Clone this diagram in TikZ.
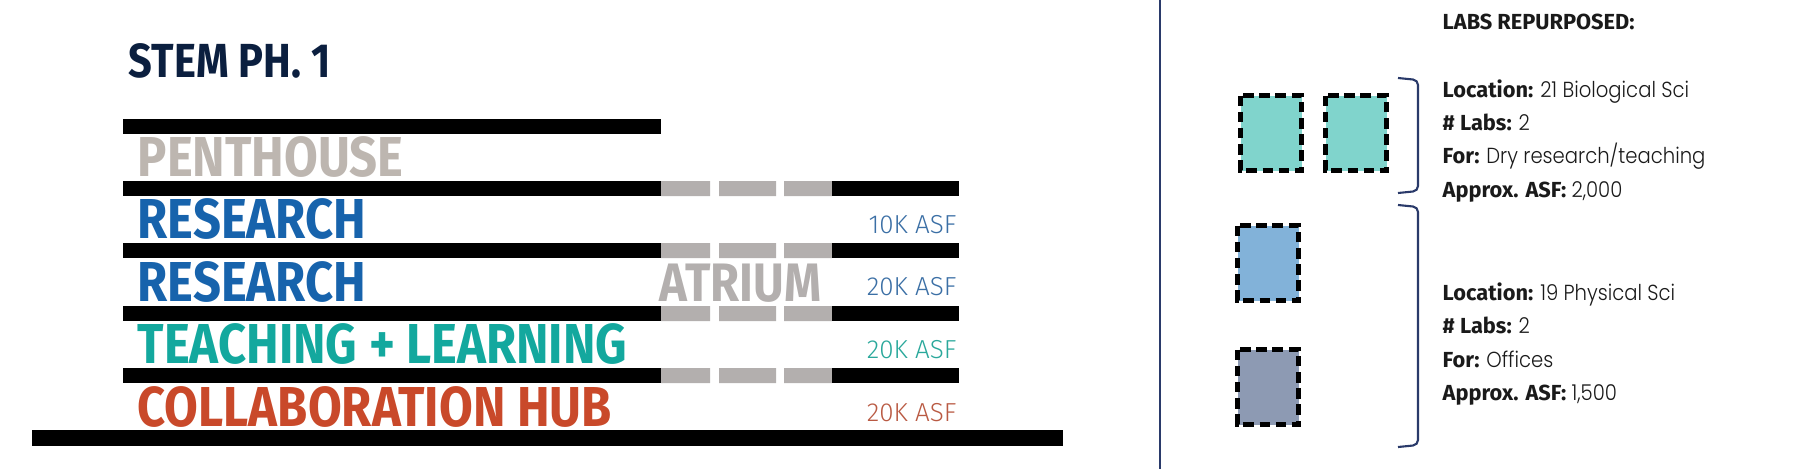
\documentclass[tikz,border=0pt]{standalone}
\usepackage{fontspec}
\setmainfont{Fira Sans}
\newfontfamily\headfont[FakeStretch=0.87]{Fira Sans}
\newfontfamily\thinfont{Fira Sans Light}
\newfontfamily\valfont[FakeStretch=0.9]{Poppins Light}
\usetikzlibrary{positioning}
\definecolor{navy}{HTML}{0B1F3F}
\definecolor{stone}{HTML}{BDB6B0}
\definecolor{resblue}{HTML}{1763AC}
\definecolor{teachteal}{HTML}{13A89E}
\definecolor{hubred}{HTML}{C9492A}
\definecolor{atrgray}{HTML}{B3AFAE}
\definecolor{asfblue}{HTML}{3B6FA5}
\definecolor{asfteal}{HTML}{2AA89B}
\definecolor{asfred}{HTML}{B95A43}
\definecolor{labteal}{HTML}{80D4CC}
\definecolor{labblue}{HTML}{82B2D9}
\definecolor{labslate}{HTML}{8D9AB3}
\definecolor{ink}{HTML}{1A1A1A}
\definecolor{rule}{HTML}{2A3A6A}
\newcommand{\slab}[1]{\fill (123,#1) rectangle (661,#1+15);\fill[atrgray] (661,#1) rectangle (710,#1+15) (719,#1) rectangle (776,#1+15) (784,#1) rectangle (832,#1+15);\fill (832,#1) rectangle (959,#1+15);}
\newcommand{\lab}[3]{\filldraw[fill=#3,draw=black,line width=1.4pt,dash pattern=on 3pt off 1.6pt] (#1,#2) rectangle (#1+61,#2+75);}

\begin{document}
\begin{tikzpicture}[x=0.01cm,y=-0.01cm,
  floor/.style={font=\headfont\bfseries\fontsize{16}{17}\selectfont,anchor=base west,inner sep=0},
  asf/.style={font=\thinfont\fontsize{7.4}{8}\selectfont,anchor=base east,inner sep=0},
  key/.style={font=\bfseries\fontsize{6.2}{7}\selectfont,anchor=base west,inner sep=0,text=ink}]
\useasboundingbox (0,0) rectangle (1800,469);
\node[font=\headfont\bfseries\fontsize{13.6}{15}\selectfont,anchor=base west,inner sep=0,text=navy] (title) at (128,77) {STEM PH. 1};
\fill (123,119) rectangle (661,134);\slab{181}\slab{243}\slab{306}\slab{368}\fill (32,430) rectangle (1063,446);
\node[floor,text=stone] (pent) at (137,176) {PENTHOUSE};
\node[floor,text=resblue] (res1) at (137,238) {RESEARCH};
\node[floor,text=resblue] (res2) at (137,301) {RESEARCH};
\node[floor,text=teachteal] (teach) at (137,363) {TEACHING + LEARNING};
\node[floor,text=hubred] (hub) at (137,426) {COLLABORATION HUB};
\node[floor,text=atrgray,font=\headfont\bfseries\fontsize{15.4}{16}\selectfont] (atrium) at (659,301) {ATRIUM};
\node[asf,text=asfblue] (asf10) at (957,233) {10K ASF};
\node[asf,text=asfblue] (asf20a) at (957,295) {20K ASF};
\node[asf,text=asfteal] (asf20b) at (957,358) {20K ASF};
\node[asf,text=asfred] (asf20c) at (957,421) {20K ASF};
% lab repurposing panel
\draw[rule,line width=0.6pt] (1160,0)--(1160,469);
\node[key] (head) at (1442,29) {LABS REPURPOSED:};
\lab{1240.5}{95.5}{labteal}\lab{1325.5}{95.5}{labteal}\lab{1237.5}{225.5}{labblue}\lab{1237.5}{349.5}{labslate}
\draw[rule,line width=0.6pt,rounded corners=1.4pt] (1398,78)--(1418,80)--(1418,191)--(1398,193);
\draw[rule,line width=0.6pt,rounded corners=1.4pt] (1398,205)--(1418,207)--(1418,445)--(1398,447);
\node[key] (loc1) at (1442,97) {Location: {\valfont\mdseries 21 Biological Sci}};
\node[key] (num1) at (1442,130) {\# Labs: {\valfont\mdseries 2}};
\node[key] (use1) at (1442,163) {For: {\valfont\mdseries Dry research/teaching}};
\node[key] (asf1) at (1442,197) {Approx. ASF: {\valfont\mdseries 2,000}};
\node[key] (loc2) at (1442,300) {Location: {\valfont\mdseries 19 Physical Sci}};
\node[key] (num2) at (1442,333) {\# Labs: {\valfont\mdseries 2}};
\node[key] (use2) at (1442,367) {For: {\valfont\mdseries Offices}};
\node[key] (asf2) at (1442,400) {Approx. ASF: {\valfont\mdseries 1,500}};
\end{tikzpicture}
\end{document}
